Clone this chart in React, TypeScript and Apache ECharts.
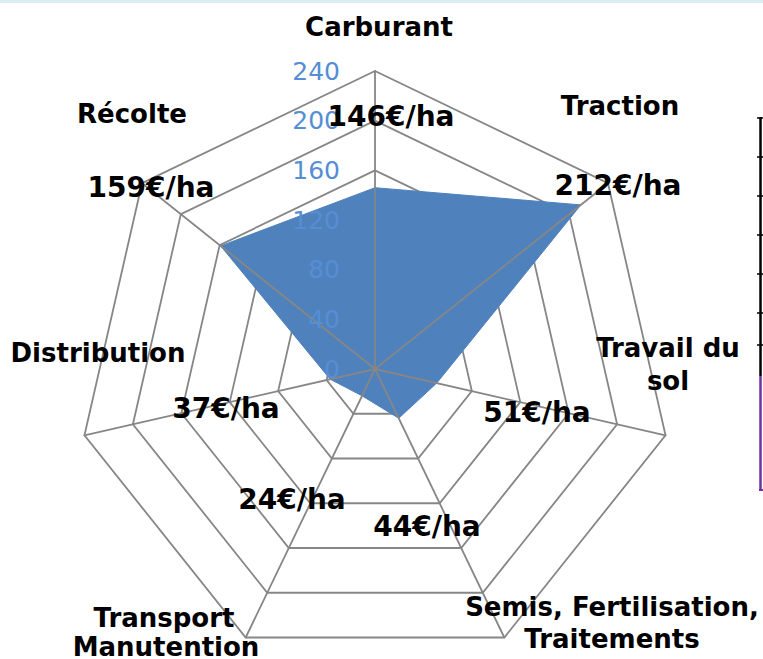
import React, { useEffect, useRef } from "react";
import * as echarts from "echarts";

// Data (clockwise order from the top, as in the reference)
const categories = [
  "Carburant",
  "Traction",
  "Travail du sol",
  "Semis, Fertilisation, Traitements",
  "Transport Manutention",
  "Distribution",
  "Récolte",
];
const values = [146, 212, 51, 44, 24, 37, 159];
const axisMax = 240;
const tickInterval = 40;

// Layout (positions of the Excel-placed labels)
const nameLines: string[][] = [
  ["Carburant"],
  ["Traction"],
  ["Travail du", "sol"],
  ["Semis, Fertilisation,", "Traitements"],
  ["Transport", "Manutention"],
  ["Distribution"],
  ["Récolte"],
];
const namePos: number[][][] = [
  [[379, 27]],
  [[620, 106]],
  [[668, 348], [668, 381]],
  [[612, 607], [612, 639]],
  [[164, 618], [166, 647]],
  [[98, 353]],
  [[132, 114]],
];
const valueLabelPos: number[][] = [
  [391, 116],
  [618, 185],
  [537, 412],
  [427, 526],
  [292, 499],
  [226, 408],
  [151, 187],
];
const tableStubs = [118, 157, 196, 235, 274, 313, 345];

export default function App() {
  const ref = useRef<HTMLDivElement>(null);
  useEffect(() => {
    if (!ref.current) return;
    const chart = echarts.init(ref.current, null, { renderer: "svg" });
    const center = [375, 369];
    const radius = 298;
    const grey = "#868686";
    const lineW = 1.8;
    const splitNumber = axisMax / tickInterval;

    // ECharts lays radar indicators out counter-clockwise: reorder so the
    // picture runs clockwise (first stays on top).
    const order = categories.map((_, i) => (i === 0 ? 0 : categories.length - i));
    const ccwCats = order.map((i) => categories[i]);
    const ccwVals = order.map((i) => values[i]);

    const graphics: any[] = [];
    graphics.push({
      type: "rect",
      shape: { x: 0, y: 0, width: 763, height: 3 },
      style: { fill: "#dbeef4" },
      z: 10,
    });
    // partial table on the right edge
    graphics.push({
      type: "line",
      shape: { x1: 760.5, y1: 117, x2: 760.5, y2: 376 },
      style: { stroke: "#000", lineWidth: 2.5 },
      z: 10,
    });
    tableStubs.forEach((y) =>
      graphics.push({
        type: "line",
        shape: { x1: 757, y1: y, x2: 763, y2: y },
        style: { stroke: "#000", lineWidth: 1.5 },
        z: 10,
      })
    );
    graphics.push({
      type: "line",
      shape: { x1: 760.5, y1: 376, x2: 760.5, y2: 491 },
      style: { stroke: "#7030a0", lineWidth: 2.5 },
      z: 10,
    });
    graphics.push({
      type: "line",
      shape: { x1: 759, y1: 490, x2: 763, y2: 490 },
      style: { stroke: "#7030a0", lineWidth: 2 },
      z: 10,
    });

    nameLines.forEach((lines, i) => {
      lines.forEach((t, j) => {
        graphics.push({
          type: "text",
          x: namePos[i][j][0],
          y: namePos[i][j][1],
          z: 20,
          style: {
            text: t,
            fill: "#000",
            fontFamily: "DejaVu Sans",
            fontWeight: "bold",
            fontSize: 26,
            textAlign: "center",
            textVerticalAlign: "middle",
          },
        });
      });
    });
    values.forEach((v, i) => {
      graphics.push({
        type: "text",
        x: valueLabelPos[i][0],
        y: valueLabelPos[i][1],
        z: 20,
        style: {
          text: `${v}€/ha`,
          fill: "#000",
          fontFamily: "DejaVu Sans",
          fontWeight: "bold",
          fontSize: 28,
          textAlign: "center",
          textVerticalAlign: "middle",
        },
      });
    });

    chart.setOption({
      animation: false,
      backgroundColor: "#ffffff",
      radar: [
        {
          center,
          radius,
          startAngle: 90,
          splitNumber,
          shape: "polygon",
          z: 0,
          indicator: ccwCats.map((c) => ({ name: c, min: 0, max: axisMax })),
          axisName: { show: false },
          splitLine: { show: true, lineStyle: { color: grey, width: lineW } },
          splitArea: { show: false },
          axisLine: { show: false },
          axisTick: { show: false },
          axisLabel: { show: false },
        },
        {
          center,
          radius,
          startAngle: 90,
          splitNumber,
          shape: "polygon",
          z: 5,
          indicator: ccwCats.map((c, i) =>
            i === 0
              ? { name: c, min: 0, max: axisMax }
              : { name: c, min: 0, max: axisMax, axisLabel: { show: false } }
          ),
          axisName: { show: false },
          splitLine: { show: false },
          splitArea: { show: false },
          axisLine: { show: true, lineStyle: { color: grey, width: lineW } },
          axisTick: { show: false },
          axisLabel: {
            show: true,
            color: "#558ed5",
            fontFamily: "DejaVu Sans",
            fontSize: 25,
            margin: 35,
          },
        },
      ],
      series: [
        {
          type: "radar",
          radarIndex: 0,
          z: 2,
          symbol: "none",
          lineStyle: { color: "#4f81bd", width: 1 },
          areaStyle: { color: "#4f81bd", opacity: 1 },
          data: [{ value: ccwVals, name: "Coût" }],
        },
      ],
      graphic: graphics,
    });
    return () => chart.dispose();
  }, []);
  return (
    <div
      ref={ref}
      style={{ position: "absolute", left: 0, top: 0, width: 763, height: 659 }}
    />
  );
}
